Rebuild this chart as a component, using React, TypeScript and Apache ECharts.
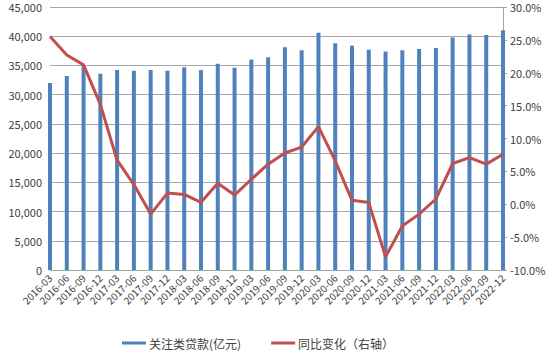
import React, { useEffect, useRef } from "react";
import * as echarts from "echarts";

const categories = [
  "2016-03","2016-06","2016-09","2016-12",
  "2017-03","2017-06","2017-09","2017-12",
  "2018-03","2018-06","2018-09","2018-12",
  "2019-03","2019-06","2019-09","2019-12",
  "2020-03","2020-06","2020-09","2020-12",
  "2021-03","2021-06","2021-09","2021-12",
  "2022-03","2022-06","2022-09","2022-12",
];

const loans = [
  32000, 33200, 34900, 33600,
  34200, 34100, 34200, 34100,
  34700, 34200, 35300, 34600,
  36000, 36400, 38100, 37600,
  40600, 38800, 38400, 37700,
  37400, 37600, 37800, 38000,
  39800, 40300, 40200, 41000,
];

const yoy = [
  25.5, 22.7, 21.2, 15.2,
  6.7, 3.0, -1.5, 1.7,
  1.5, 0.3, 3.2, 1.4,
  3.8, 6.1, 7.8, 8.7,
  11.8, 6.6, 0.6, 0.25,
  -8.0, -3.3, -1.5, 0.8,
  6.2, 7.1, 6.1, 7.6,
];

const leftTicks = { min: 0, max: 45000, interval: 5000 };
const rightTicks = { min: -10, max: 30, interval: 5 };

const FONT = "'Noto Sans CJK SC', 'Noto Sans', sans-serif";

export default function App() {
  const ref = useRef<HTMLDivElement>(null);
  useEffect(() => {
    if (!ref.current) return;
    const chart = echarts.init(ref.current, undefined, { renderer: "svg" });
    chart.setOption({
      animation: false,
      textStyle: { fontFamily: FONT },
      grid: { left: 50, right: 51, top: 7, bottom: 81, containLabel: false },
      legend: {
        top: 332,
        left: 117,
        itemGap: 30,
        itemWidth: 24,
        itemHeight: 3,
        textStyle: { fontSize: 12, color: "#404040", fontFamily: FONT, padding: [0, 0, 0, -2] },
        data: [
          { name: "关注类贷款(亿元)", icon: "rect" },
          { name: "同比变化（右轴）", icon: "rect" },
        ],
      },
      xAxis: {
        type: "category",
        data: categories,
        boundaryGap: false,
        axisLine: { show: true, lineStyle: { color: "#A6A6A6" } },
        axisTick: { show: false },
        axisLabel: {
          rotate: 45,
          interval: 0,
          fontSize: 10,
          color: "#404040",
          margin: 6,
          fontFamily: FONT,
        },
      },
      yAxis: [
        {
          type: "value",
          ...leftTicks,
          axisLine: { show: false },
          axisTick: { show: false },
          splitLine: { show: true, lineStyle: { color: "#A6A6A6", width: 1 } },
          axisLabel: {
            fontSize: 11,
            color: "#404040",
            margin: 8,
            fontFamily: FONT,
            formatter: (v: number) => v.toLocaleString("en-US"),
          },
        },
        {
          type: "value",
          ...rightTicks,
          position: "right",
          axisLine: { show: true, lineStyle: { color: "#A6A6A6" } },
          axisTick: { show: true, length: 4, inside: false, lineStyle: { color: "#A6A6A6" } },
          splitLine: { show: false },
          axisLabel: {
            fontSize: 11,
            color: "#404040",
            margin: 7,
            fontFamily: FONT,
            formatter: (v: number) => v.toFixed(1) + "%",
          },
        },
      ],
      series: [
        {
          name: "关注类贷款(亿元)",
          type: "bar",
          data: loans,
          barWidth: 4,
          yAxisIndex: 0,
          itemStyle: { color: "#4F81BD" },
        },
        {
          name: "同比变化（右轴）",
          type: "line",
          data: yoy,
          yAxisIndex: 1,
          symbol: "none",
          lineStyle: { color: "#C0504D", width: 3 },
          itemStyle: { color: "#C0504D" },
        },
      ],
    });
    return () => chart.dispose();
  }, []);
  return <div ref={ref} style={{ width: 554, height: 351, position: "absolute", left: 0, top: 0 }} />;
}
